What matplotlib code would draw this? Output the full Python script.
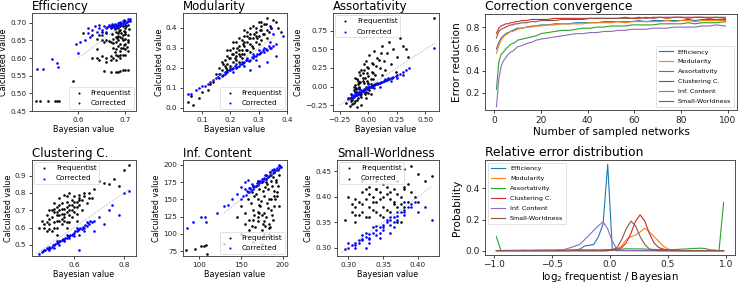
import matplotlib
matplotlib.use('Agg')
import matplotlib.pyplot as plt
import numpy as np

W, H = 741, 284

# ---- scatter data ----
eff_freq_x = [0.69, 0.70, 0.705, 0.695, 0.685, 0.70, 0.69, 0.68, 0.70, 0.685, 0.695, 0.705, 0.68, 0.69,
              0.70, 0.675, 0.685, 0.695, 0.705, 0.68, 0.69, 0.70, 0.685, 0.695, 0.675, 0.70, 0.69, 0.705,
              0.64, 0.65, 0.66, 0.665, 0.655, 0.67, 0.63, 0.645, 0.66, 0.65, 0.61,
              0.63, 0.64, 0.645, 0.65, 0.66, 0.67, 0.675, 0.68, 0.685, 0.69, 0.695, 0.70, 0.67, 0.66, 0.68, 0.69,
              0.655, 0.67, 0.685, 0.69, 0.70, 0.705, 0.695, 0.68,
              0.59, 0.51, 0.52, 0.535, 0.55, 0.56, 0.555, 0.64,
              0.672, 0.678, 0.683, 0.688, 0.692, 0.697, 0.702, 0.708, 0.674, 0.681, 0.687, 0.693, 0.699,
              0.704, 0.676, 0.684, 0.691, 0.698, 0.706, 0.679]
eff_freq_y = [0.70, 0.70, 0.695, 0.69, 0.685, 0.685, 0.68, 0.675, 0.675, 0.67, 0.665, 0.665, 0.66, 0.66,
              0.655, 0.655, 0.65, 0.65, 0.645, 0.645, 0.64, 0.64, 0.635, 0.63, 0.63, 0.625, 0.62, 0.62,
              0.655, 0.65, 0.652, 0.648, 0.645, 0.645, 0.665, 0.665, 0.67, 0.675, 0.67,
              0.60, 0.60, 0.595, 0.605, 0.60, 0.605, 0.60, 0.61, 0.605, 0.61, 0.61, 0.61, 0.595, 0.59, 0.595, 0.60,
              0.563, 0.56, 0.562, 0.564, 0.566, 0.566, 0.565, 0.561,
              0.535, 0.478, 0.478, 0.478, 0.478, 0.478, 0.478, 0.625,
              0.668, 0.682, 0.657, 0.693, 0.671, 0.638, 0.692, 0.683, 0.642, 0.627, 0.676, 0.656, 0.668,
              0.632, 0.688, 0.662, 0.628, 0.678, 0.652, 0.617]
eff_corr_x = [0.665, 0.67, 0.675, 0.68, 0.685, 0.69, 0.695, 0.70, 0.705, 0.71, 0.70, 0.69, 0.68, 0.675,
              0.67, 0.66, 0.655, 0.665, 0.685, 0.695, 0.705, 0.71, 0.70, 0.69, 0.68, 0.65, 0.645,
              0.645, 0.64, 0.63, 0.62, 0.625, 0.615, 0.605, 0.595, 0.60, 0.65, 0.66, 0.635, 0.62,
              0.513, 0.525, 0.545, 0.555, 0.557,
              0.662, 0.668, 0.673, 0.678, 0.683, 0.688, 0.693, 0.698, 0.703, 0.708, 0.672, 0.687, 0.697]
eff_corr_y = [0.69, 0.685, 0.69, 0.69, 0.695, 0.695, 0.70, 0.70, 0.705, 0.71, 0.705, 0.70, 0.695, 0.695,
              0.69, 0.685, 0.69, 0.695, 0.70, 0.705, 0.71, 0.705, 0.695, 0.69, 0.685, 0.68, 0.685,
              0.695, 0.675, 0.68, 0.67, 0.66, 0.65, 0.645, 0.64, 0.615, 0.665, 0.675, 0.69, 0.685,
              0.568, 0.57, 0.597, 0.585, 0.575,
              0.688, 0.692, 0.687, 0.697, 0.69, 0.702, 0.698, 0.703, 0.702, 0.708, 0.698, 0.692, 0.708]

mod_freq_x = [0.15, 0.16, 0.17, 0.18, 0.18, 0.19, 0.19, 0.20, 0.20, 0.20, 0.21, 0.21, 0.21, 0.22, 0.22,
              0.22, 0.23, 0.23, 0.23, 0.24, 0.24, 0.24, 0.25, 0.25, 0.25, 0.26, 0.26, 0.26, 0.27, 0.27,
              0.27, 0.28, 0.28, 0.28, 0.29, 0.29, 0.30, 0.30, 0.31, 0.31, 0.32, 0.32, 0.33, 0.33, 0.34,
              0.35, 0.36, 0.37, 0.38, 0.17, 0.19, 0.23, 0.25, 0.29, 0.31, 0.27,
              0.05, 0.06, 0.07, 0.09, 0.10, 0.12, 0.13, 0.14,
              0.175, 0.185, 0.195, 0.205, 0.215, 0.225, 0.235, 0.245, 0.255, 0.265, 0.275, 0.285, 0.295,
              0.305, 0.315, 0.325, 0.335, 0.345, 0.19, 0.21, 0.23, 0.25, 0.27, 0.29, 0.31, 0.33, 0.22,
              0.26, 0.30, 0.24]
mod_freq_y = [0.17, 0.20, 0.19, 0.24, 0.21, 0.26, 0.22, 0.29, 0.25, 0.21, 0.30, 0.27, 0.23, 0.33, 0.28,
              0.24, 0.31, 0.27, 0.35, 0.34, 0.29, 0.25, 0.36, 0.31, 0.27, 0.38, 0.33, 0.29, 0.37, 0.32,
              0.40, 0.35, 0.30, 0.41, 0.38, 0.33, 0.43, 0.36, 0.39, 0.34, 0.42, 0.37, 0.45, 0.39, 0.41,
              0.44, 0.43, 0.40, 0.38, 0.23, 0.29, 0.29, 0.33, 0.36, 0.41, 0.35,
              0.03, 0.06, 0.015, 0.05, 0.08, 0.09, 0.12, 0.13,
              0.22, 0.20, 0.25, 0.27, 0.25, 0.30, 0.26, 0.32, 0.29, 0.35, 0.31, 0.37, 0.35,
              0.39, 0.37, 0.42, 0.38, 0.40, 0.19, 0.33, 0.23, 0.39, 0.28, 0.40, 0.43, 0.35, 0.26,
              0.36, 0.32, 0.27]
mod_corr_x = [0.05, 0.06, 0.08, 0.09, 0.10, 0.11, 0.12, 0.13, 0.14, 0.15, 0.16, 0.17, 0.18, 0.19, 0.20,
              0.21, 0.22, 0.23, 0.24, 0.25, 0.26, 0.27, 0.28, 0.29, 0.30, 0.31, 0.32, 0.33, 0.34, 0.35,
              0.36, 0.16, 0.18, 0.20, 0.22, 0.24, 0.26, 0.28, 0.30, 0.32, 0.34, 0.27, 0.30, 0.33, 0.36,
              0.385, 0.345, 0.35, 0.21, 0.25, 0.29,
              0.155, 0.165, 0.175, 0.185, 0.195, 0.205, 0.215, 0.225, 0.235, 0.245, 0.255, 0.265, 0.275,
              0.285, 0.295, 0.305, 0.315, 0.325, 0.335, 0.345]
mod_corr_y = [0.07, 0.07, 0.09, 0.10, 0.11, 0.11, 0.12, 0.13, 0.14, 0.15, 0.15, 0.16, 0.17, 0.18, 0.19,
              0.20, 0.20, 0.21, 0.22, 0.23, 0.24, 0.24, 0.25, 0.26, 0.27, 0.28, 0.28, 0.29, 0.30, 0.31,
              0.32, 0.17, 0.18, 0.20, 0.22, 0.23, 0.25, 0.27, 0.29, 0.30, 0.33, 0.19, 0.21, 0.23, 0.26,
              0.36, 0.40, 0.37, 0.18, 0.21, 0.24,
              0.155, 0.17, 0.165, 0.18, 0.19, 0.195, 0.21, 0.205, 0.22, 0.225, 0.24, 0.235, 0.255,
              0.26, 0.27, 0.275, 0.29, 0.295, 0.31, 0.30]

ass_freq_x = [-0.20, -0.18, -0.16, -0.15, -0.14, -0.13, -0.12, -0.12, -0.11, -0.10, -0.10, -0.09, -0.08,
              -0.08, -0.07, -0.06, -0.06, -0.05, -0.04, -0.04, -0.03, -0.02, -0.02, -0.01, 0.00, 0.00,
              0.01, 0.02, 0.03, 0.04, 0.05, 0.06, 0.08, 0.10, 0.12, 0.14, 0.16, 0.18, 0.20, 0.22, 0.25,
              0.28, 0.30, 0.05, 0.02, -0.02, -0.06, -0.10, -0.14, 0.08, 0.12, 0.15, 0.35, 0.58, 0.24,
              0.33, -0.13, -0.09, -0.05, -0.01, 0.03, -0.11, -0.07,
              -0.14, -0.12, -0.10, -0.08, -0.06, -0.04, -0.02, 0.00, 0.02, 0.04, -0.13, -0.11, -0.09,
              -0.07, -0.05, -0.03, -0.01, 0.01, 0.03, -0.15, -0.12, -0.08, -0.04, 0.00, 0.04, 0.07,
              0.09, 0.11]
ass_freq_y = [-0.22, -0.15, -0.26, -0.10, -0.18, -0.05, -0.20, 0.02, -0.12, -0.08, 0.10, -0.16, 0.05,
              -0.02, 0.15, -0.10, 0.22, 0.08, -0.05, 0.30, 0.12, 0.00, 0.35, 0.18, 0.05, 0.25,
              0.42, 0.10, 0.20, 0.30, 0.48, 0.15, 0.38, 0.25, 0.55, 0.35, 0.45, 0.60, 0.30, 0.50, 0.40,
              0.65, 0.55, 0.02, -0.10, -0.15, -0.25, -0.27, -0.24, 0.05, 0.15, 0.22, 0.40, 0.92, 0.20,
              0.50, 0.00, 0.03, 0.12, 0.08, 0.00, -0.03, 0.06,
              -0.15, -0.08, -0.18, 0.00, -0.14, 0.05, -0.07, 0.14, 0.04, 0.10, -0.22, -0.02, 0.08,
              -0.12, 0.18, -0.10, 0.26, -0.05, 0.32, -0.20, 0.12, 0.20, 0.22, -0.09, 0.18, 0.28,
              0.36, 0.45]
ass_corr_x = [-0.18, -0.16, -0.15, -0.14, -0.13, -0.12, -0.11, -0.10, -0.09, -0.08, -0.07, -0.06, -0.05,
              -0.04, -0.03, -0.02, -0.01, 0.00, 0.01, 0.02, 0.03, 0.04, 0.05, 0.06, 0.08, 0.10, 0.12,
              0.14, 0.16, 0.18, 0.20, 0.22, 0.25, 0.28, 0.30, 0.33, 0.36, 0.58, -0.12, -0.08, -0.04,
              0.00, 0.05, 0.10, 0.15, 0.20, 0.25, 0.30, -0.14, -0.10, -0.06,
              -0.165, -0.145, -0.125, -0.105, -0.085, -0.065, -0.045, -0.025, -0.005, 0.015, 0.035,
              0.055, 0.075, 0.095, 0.115, 0.135, 0.155, 0.175, 0.21, 0.24]
ass_corr_y = [-0.17, -0.15, -0.16, -0.13, -0.14, -0.11, -0.12, -0.09, -0.10, -0.07, -0.08, -0.05, -0.06,
              -0.04, -0.04, -0.02, -0.03, -0.01, 0.00, 0.00, 0.01, 0.02, 0.02, 0.03, 0.04, 0.05, 0.06,
              0.08, 0.09, 0.10, 0.12, 0.13, 0.15, 0.17, 0.19, 0.22, 0.25, 0.52, -0.08, -0.04, -0.08,
              0.03, -0.02, 0.00, 0.10, 0.08, 0.12, 0.15, -0.11, -0.12, -0.07,
              -0.15, -0.14, -0.12, -0.10, -0.09, -0.06, -0.05, -0.03, -0.02, 0.00, 0.01,
              0.03, 0.03, 0.05, 0.06, 0.07, 0.09, 0.11, 0.12, 0.14]

clu_freq_x = [0.47, 0.48, 0.49, 0.50, 0.50, 0.51, 0.51, 0.52, 0.52, 0.52, 0.53, 0.53, 0.53, 0.54, 0.54,
              0.54, 0.55, 0.55, 0.55, 0.56, 0.56, 0.56, 0.57, 0.57, 0.57, 0.58, 0.58, 0.58, 0.59, 0.59,
              0.60, 0.60, 0.61, 0.61, 0.62, 0.62, 0.63, 0.64, 0.65, 0.66, 0.67, 0.68, 0.70, 0.72, 0.74,
              0.76, 0.78, 0.80, 0.82, 0.49, 0.53, 0.57, 0.61,
              0.48, 0.50, 0.51, 0.52, 0.53, 0.54, 0.55, 0.56, 0.57, 0.58, 0.59, 0.60, 0.61, 0.62, 0.63,
              0.50, 0.52, 0.54, 0.56, 0.58, 0.60, 0.62, 0.55, 0.57, 0.53, 0.59, 0.64, 0.66, 0.46, 0.49]
clu_freq_y = [0.64, 0.60, 0.67, 0.62, 0.70, 0.58, 0.66, 0.63, 0.69, 0.74, 0.60, 0.67, 0.72, 0.64, 0.70,
              0.77, 0.62, 0.68, 0.74, 0.66, 0.71, 0.79, 0.63, 0.69, 0.75, 0.67, 0.73, 0.80, 0.70, 0.76,
              0.72, 0.78, 0.68, 0.75, 0.73, 0.79, 0.76, 0.78, 0.74, 0.80, 0.77, 0.82, 0.87, 0.86, 0.85,
              0.88, 0.84, 0.93, 0.96, 0.58, 0.56, 0.60, 0.64,
              0.62, 0.65, 0.70, 0.60, 0.69, 0.67, 0.71, 0.64, 0.72, 0.70, 0.66, 0.75, 0.72, 0.77, 0.70,
              0.59, 0.71, 0.73, 0.68, 0.63, 0.69, 0.76, 0.65, 0.78, 0.64, 0.73, 0.80, 0.77, 0.60, 0.63]
clu_corr_x = [0.46, 0.47, 0.48, 0.49, 0.50, 0.51, 0.52, 0.53, 0.54, 0.55, 0.56, 0.57, 0.58, 0.59, 0.60,
              0.61, 0.62, 0.63, 0.64, 0.65, 0.66, 0.67, 0.68, 0.70, 0.50, 0.52, 0.54, 0.56, 0.58, 0.60,
              0.62, 0.64, 0.53, 0.57, 0.61, 0.65, 0.72, 0.75, 0.78, 0.80, 0.82, 0.62, 0.68, 0.74,
              0.475, 0.485, 0.495, 0.505, 0.515, 0.525, 0.535, 0.545, 0.555, 0.565, 0.575, 0.585,
              0.595, 0.605, 0.615, 0.625, 0.635, 0.645, 0.655, 0.665]
clu_corr_y = [0.45, 0.46, 0.47, 0.48, 0.49, 0.49, 0.50, 0.51, 0.52, 0.53, 0.53, 0.54, 0.55, 0.56, 0.57,
              0.58, 0.59, 0.59, 0.60, 0.61, 0.62, 0.63, 0.64, 0.66, 0.47, 0.48, 0.50, 0.52, 0.54, 0.55,
              0.56, 0.58, 0.52, 0.56, 0.60, 0.63, 0.62, 0.73, 0.67, 0.80, 0.81, 0.47, 0.58, 0.70,
              0.465, 0.47, 0.475, 0.485, 0.50, 0.505, 0.51, 0.525, 0.535, 0.54, 0.55, 0.56,
              0.565, 0.58, 0.585, 0.60, 0.605, 0.615, 0.625, 0.64]

inf_freq_x = [150, 155, 158, 160, 162, 163, 165, 166, 167, 168, 170, 171, 172, 173, 175, 176, 177, 178,
              180, 181, 182, 183, 185, 186, 187, 188, 190, 191, 192, 193, 195, 196, 170, 175, 180, 185,
              190, 165, 172, 178, 184, 160, 155, 150, 165, 175, 185, 180, 145,
              85, 95, 103, 106, 108, 110, 130,
              168, 172, 176, 179, 183, 186, 189, 192, 194, 170, 174, 178, 182, 186, 190, 166, 181, 188,
              193, 175, 184, 179, 171, 187, 163]
inf_freq_y = [140, 130, 150, 120, 145, 160, 135, 155, 110, 170, 150, 125, 165, 140, 175, 115, 155, 130,
              180, 145, 165, 100, 185, 135, 170, 120, 190, 150, 175, 160, 185, 140, 95, 105, 125, 110,
              155, 120, 130, 100, 115, 105, 115, 100, 88, 85, 95, 175, 125,
              77, 78, 83, 83, 84, 71, 85,
              158, 142, 162, 168, 150, 176, 162, 178, 170, 132, 148, 118, 137, 150, 140, 128, 172, 183,
              155, 128, 108, 112, 118, 128, 112]
inf_corr_x = [150, 153, 156, 158, 160, 162, 164, 166, 168, 170, 172, 174, 176, 178, 180, 182, 184, 186,
              188, 190, 192, 194, 196, 198, 160, 165, 170, 175, 180, 185, 190, 195, 145, 150, 155, 158,
              140, 135, 130, 122, 108, 107, 102, 93, 86, 155, 163,
              157, 161, 165, 169, 173, 177, 181, 185, 189, 193, 197, 171, 179, 187, 195]
inf_corr_y = [150, 155, 157, 160, 161, 163, 165, 168, 169, 171, 173, 175, 177, 179, 180, 182, 184, 186,
              188, 190, 192, 193, 195, 197, 166, 170, 176, 180, 185, 189, 194, 198, 158, 168, 175, 178,
              150, 142, 140, 130, 117, 125, 125, 117, 109, 165, 172,
              162, 166, 170, 173, 176, 181, 184, 189, 192, 196, 199, 177, 185, 192, 200]

sw_freq_x = [0.295, 0.30, 0.305, 0.31, 0.31, 0.315, 0.32, 0.32, 0.325, 0.33, 0.33, 0.335, 0.34, 0.34,
             0.34, 0.345, 0.35, 0.35, 0.355, 0.36, 0.36, 0.365, 0.37, 0.37, 0.375, 0.38, 0.38, 0.385,
             0.39, 0.39, 0.40, 0.41, 0.42, 0.33, 0.35, 0.37, 0.32, 0.36, 0.38, 0.40, 0.31, 0.34,
             0.305, 0.315, 0.325, 0.335, 0.345, 0.355, 0.365, 0.375, 0.385, 0.395, 0.31, 0.32, 0.33,
             0.34, 0.35, 0.36, 0.37, 0.38, 0.345, 0.355, 0.365, 0.335, 0.325, 0.375]
sw_freq_y = [0.355, 0.40, 0.37, 0.38, 0.35, 0.39, 0.37, 0.41, 0.36, 0.38, 0.42, 0.40, 0.37, 0.39, 0.43,
             0.41, 0.38, 0.40, 0.42, 0.37, 0.41, 0.39, 0.38, 0.43, 0.40, 0.42, 0.455, 0.39, 0.41, 0.46,
             0.445, 0.43, 0.44, 0.36, 0.36, 0.35, 0.43, 0.44, 0.38, 0.39, 0.365, 0.415,
             0.385, 0.365, 0.395, 0.375, 0.395, 0.375, 0.415, 0.385, 0.425, 0.40, 0.395, 0.385, 0.405,
             0.415, 0.425, 0.395, 0.405, 0.415, 0.365, 0.405, 0.385, 0.39, 0.415, 0.35]
sw_corr_x = [0.295, 0.30, 0.305, 0.31, 0.315, 0.32, 0.325, 0.33, 0.335, 0.34, 0.345, 0.35, 0.355, 0.36,
             0.365, 0.37, 0.375, 0.38, 0.385, 0.39, 0.395, 0.31, 0.32, 0.33, 0.34, 0.35, 0.36, 0.37,
             0.38, 0.325, 0.345, 0.365, 0.40, 0.41, 0.42, 0.38, 0.36, 0.33,
             0.30, 0.31, 0.32, 0.33, 0.34, 0.35, 0.36, 0.37, 0.38, 0.39, 0.335, 0.345, 0.355, 0.325,
             0.315, 0.365]
sw_corr_y = [0.297, 0.30, 0.305, 0.31, 0.315, 0.318, 0.322, 0.327, 0.33, 0.335, 0.34, 0.345, 0.35, 0.355,
             0.36, 0.363, 0.37, 0.375, 0.38, 0.385, 0.39, 0.305, 0.315, 0.32, 0.325, 0.335, 0.345, 0.355,
             0.365, 0.30, 0.32, 0.34, 0.37, 0.38, 0.355, 0.39, 0.33, 0.31,
             0.31, 0.30, 0.325, 0.318, 0.342, 0.34, 0.36, 0.37, 0.37, 0.38, 0.34, 0.33, 0.355, 0.33,
             0.31, 0.35]

# ---- convergence curves ----
n_sampled = [1, 2, 3, 4, 5, 6, 7, 8, 9, 10, 12, 14, 16, 18, 20, 23, 26, 29, 32, 35, 38, 41, 44, 47, 50,
             53, 56, 59, 62, 65, 68, 71, 74, 77, 80, 83, 86, 89, 92, 95, 99]
conv_eff = [0.60, 0.66, 0.70, 0.72, 0.74, 0.75, 0.76, 0.77, 0.78, 0.79, 0.79, 0.80, 0.81, 0.81, 0.82,
            0.82, 0.83, 0.83, 0.83, 0.84, 0.84, 0.84, 0.84, 0.85, 0.85, 0.85, 0.85, 0.85, 0.86, 0.85,
            0.86, 0.86, 0.86, 0.86, 0.86, 0.87, 0.86, 0.87, 0.87, 0.87, 0.87]
conv_mod = [0.56, 0.63, 0.68, 0.71, 0.73, 0.74, 0.76, 0.76, 0.77, 0.78, 0.79, 0.80, 0.80, 0.81, 0.81,
            0.82, 0.82, 0.83, 0.83, 0.83, 0.83, 0.84, 0.84, 0.84, 0.84, 0.85, 0.84, 0.85, 0.85, 0.85,
            0.85, 0.85, 0.86, 0.85, 0.86, 0.86, 0.85, 0.86, 0.86, 0.86, 0.86]
conv_ass = [0.23, 0.48, 0.55, 0.57, 0.60, 0.62, 0.64, 0.65, 0.66, 0.68, 0.69, 0.70, 0.71, 0.72, 0.74,
            0.75, 0.76, 0.77, 0.77, 0.78, 0.79, 0.79, 0.80, 0.80, 0.81, 0.81, 0.81, 0.82, 0.82, 0.82,
            0.82, 0.83, 0.83, 0.83, 0.83, 0.84, 0.83, 0.84, 0.84, 0.84, 0.85]
conv_clu = [0.74, 0.79, 0.81, 0.82, 0.83, 0.83, 0.84, 0.84, 0.85, 0.85, 0.86, 0.86, 0.87, 0.87, 0.87,
            0.87, 0.88, 0.88, 0.88, 0.88, 0.88, 0.88, 0.88, 0.88, 0.88, 0.88, 0.89, 0.88, 0.88, 0.89,
            0.88, 0.89, 0.88, 0.89, 0.89, 0.88, 0.89, 0.89, 0.88, 0.89, 0.88]
conv_inf = [0.07, 0.32, 0.44, 0.49, 0.52, 0.55, 0.57, 0.58, 0.60, 0.62, 0.63, 0.65, 0.66, 0.68, 0.69,
            0.70, 0.71, 0.72, 0.73, 0.74, 0.74, 0.75, 0.75, 0.76, 0.76, 0.77, 0.77, 0.78, 0.78, 0.78,
            0.79, 0.79, 0.79, 0.80, 0.80, 0.80, 0.80, 0.81, 0.81, 0.82, 0.81]
conv_sw = [0.70, 0.76, 0.78, 0.79, 0.80, 0.81, 0.82, 0.82, 0.83, 0.83, 0.84, 0.84, 0.85, 0.85, 0.86,
           0.86, 0.86, 0.87, 0.87, 0.87, 0.87, 0.88, 0.88, 0.88, 0.88, 0.88, 0.88, 0.88, 0.89, 0.88,
           0.89, 0.89, 0.89, 0.89, 0.89, 0.89, 0.89, 0.89, 0.89, 0.89, 0.89]

# ---- relative error histograms (bin centres -0.98 ... 0.98) ----
bin_centres = np.round(np.arange(-0.98, 0.99, 0.04), 2)
hist_eff = [0, 0, 0, 0, 0, 0, 0, 0, 0, 0, 0, 0, 0, 0, 0, 0, 0.002, 0.005, 0.01, 0.03, 0.035, 0.04, 0.09,
            0.17, 0.555, 0.01, 0, 0, 0, 0, 0, 0, 0, 0, 0, 0, 0, 0, 0, 0, 0, 0, 0, 0, 0, 0, 0, 0, 0, 0]
hist_mod = [0, 0, 0, 0, 0, 0, 0, 0, 0, 0, 0, 0, 0, 0, 0, 0, 0, 0, 0, 0, 0, 0, 0, 0, 0.002, 0.004, 0.01,
            0.03, 0.07, 0.09, 0.10, 0.12, 0.145, 0.12, 0.09, 0.06, 0.03, 0.01, 0.005, 0.002, 0, 0, 0, 0,
            0, 0, 0, 0, 0, 0]
hist_ass = [0.09, 0.0, 0.002, 0.002, 0.003, 0.002, 0.003, 0.002, 0.003, 0.004, 0.003, 0.004, 0.003,
            0.004, 0.005, 0.004, 0.005, 0.004, 0.005, 0.006, 0.005, 0.006, 0.005, 0.006, 0.007, 0.008,
            0.009, 0.01, 0.012, 0.012, 0.011, 0.012, 0.01, 0.009, 0.008, 0.007, 0.008, 0.006, 0.007,
            0.008, 0.01, 0.011, 0.013, 0.015, 0.016, 0.014, 0.006, 0.004, 0.0, 0.31]
hist_clu = [0, 0, 0, 0, 0, 0, 0, 0, 0, 0, 0, 0, 0, 0, 0, 0, 0, 0, 0, 0, 0, 0, 0, 0, 0, 0.002, 0.005,
            0.02, 0.05, 0.11, 0.19, 0.23, 0.19, 0.11, 0.05, 0.02, 0.01, 0.003, 0, 0, 0, 0, 0, 0, 0, 0, 0,
            0, 0, 0]
hist_inf = [0.001, 0.001, 0.001, 0.001, 0.001, 0.001, 0.002, 0.002, 0.002, 0.002, 0.003, 0.003, 0.003,
            0.004, 0.005, 0.01, 0.02, 0.03, 0.04, 0.07, 0.10, 0.13, 0.16, 0.185, 0.14, 0.06, 0.01, 0.002,
            0.001, 0.001, 0, 0, 0, 0, 0, 0, 0, 0, 0, 0, 0, 0, 0, 0, 0, 0, 0, 0, 0, 0]
hist_sw = [0, 0, 0, 0, 0, 0, 0, 0, 0, 0, 0, 0, 0, 0, 0, 0, 0, 0, 0, 0, 0, 0, 0, 0, 0, 0.005, 0.02, 0.07,
           0.14, 0.19, 0.16, 0.09, 0.04, 0.01, 0.003, 0, 0, 0, 0, 0, 0, 0, 0, 0, 0, 0, 0, 0, 0, 0]

metric_names = ['Efficiency', 'Modularity', 'Assortativity', 'Clustering C.', 'Inf. Content',
                'Small-Worldness']

fig = plt.figure(figsize=(W / 100, H / 100), dpi=100)


def px_axes(l, t, r, b):
    return fig.add_axes([l / W, 1 - b / H, (r - l) / W, (b - t) / H])


def style(ax, tick_fs):
    for sp in ax.spines.values():
        sp.set_linewidth(0.6)
        sp.set_color('#333333')
    ax.tick_params(labelsize=tick_fs, length=2.5, width=0.6, pad=1.5, colors='#222222')


scatter_panels = [
    # name, fx, fy, cx, cy, box (l,t,r,b), xlim, ylim, xticks, yticks, legend loc, diag
    ('Efficiency', eff_freq_x, eff_freq_y, eff_corr_x, eff_corr_y, (32, 13, 136, 111),
     (0.502, 0.723), (0.45, 0.728), [0.6, 0.7], [0.45, 0.50, 0.55, 0.60, 0.65, 0.70],
     'lower right', (0.60, 0.71)),
    ('Modularity', mod_freq_x, mod_freq_y, mod_corr_x, mod_corr_y, (183, 13, 287, 111),
     (0.033, 0.40), (-0.015, 0.475), [0.1, 0.2, 0.3, 0.4], [0.0, 0.1, 0.2, 0.3, 0.4],
     'lower right', (0.08, 0.36)),
    ('Assortativity', ass_freq_x, ass_freq_y, ass_corr_x, ass_corr_y, (333, 13, 439, 111),
     (-0.31, 0.62), (-0.33, 0.99), [-0.25, 0.0, 0.25, 0.5], [-0.25, 0.0, 0.25, 0.5, 0.75],
     'upper left', (-0.25, 0.58)),
    ('Clustering C.', clu_freq_x, clu_freq_y, clu_corr_x, clu_corr_y, (32, 160, 136, 256),
     (0.432, 0.848), (0.436, 0.99), [0.6, 0.8], [0.5, 0.6, 0.7, 0.8, 0.9],
     'upper left', (0.45, 0.82)),
    ('Inf. Content', inf_freq_x, inf_freq_y, inf_corr_x, inf_corr_y, (183, 160, 287, 256),
     (81, 205), (68, 207), [100, 150, 200], [75, 100, 125, 150, 175, 200],
     'lower right', (130, 198)),
    ('Small-Worldness', sw_freq_x, sw_freq_y, sw_corr_x, sw_corr_y, (337, 160, 439, 256),
     (0.284, 0.43), (0.284, 0.472), [0.30, 0.35, 0.40], [0.30, 0.35, 0.40, 0.45],
     'upper left', (0.29, 0.42)),
]

for (name, fx, fy, cx, cy, box, xl, yl, xt, yt, loc, diag) in scatter_panels:
    ax = px_axes(*box)
    ax.scatter(fx, fy, s=3.5, c='k', lw=0, label='Frequentist', zorder=2)
    ax.scatter(cx, cy, s=3.5, c='b', lw=0, label='Corrected', zorder=3)
    ax.plot(diag, diag, color='gray', lw=0.5, ls=':', zorder=4)
    ax.set_xlim(*xl)
    ax.set_ylim(*yl)
    ax.set_xticks(xt)
    ax.set_yticks(yt)
    style(ax, 5.2)
    ax.set_xlabel('Bayesian value', fontsize=5.8, labelpad=1.5)
    ax.set_ylabel('Calculated value', fontsize=5.8, labelpad=1.5)
    ax.set_title(name, fontsize=8.5, loc='left', pad=2)
    leg = ax.legend(loc=loc, fontsize=5.2, markerscale=0.8, handletextpad=0.6,
                    borderpad=0.4, labelspacing=0.6, handlelength=2.0, borderaxespad=0.3)
    leg.get_frame().set_linewidth(0.5)

colors = ['#1f77b4', '#ff7f0e', '#2ca02c', '#d62728', '#9467bd', '#8c564b']

# convergence
ax = px_axes(485, 14, 737, 110)
for series, c, name in zip([conv_eff, conv_mod, conv_ass, conv_clu, conv_inf, conv_sw], colors,
                           metric_names):
    ax.plot(n_sampled, series, color=c, lw=0.8, label=name)
ax.set_ylim(0.04, 0.92)
ax.set_xticks([0, 20, 40, 60, 80, 100])
ax.set_yticks([0.2, 0.4, 0.6, 0.8])
style(ax, 6.5)
ax.set_xlabel('Number of sampled networks', fontsize=7.6, labelpad=1.5)
ax.set_ylabel('Error reduction', fontsize=7.6, labelpad=2)
ax.set_title('Correction convergence', fontsize=8.9, loc='left', pad=3)
leg = ax.legend(loc='lower right', fontsize=4.6, handlelength=2.2, labelspacing=0.7,
                borderpad=0.5, borderaxespad=0.4)
leg.get_frame().set_linewidth(0.5)

# error distribution
ax = px_axes(485, 160, 735, 255)
for series, c, name in zip([hist_eff, hist_mod, hist_ass, hist_clu, hist_inf, hist_sw], colors,
                           metric_names):
    ax.plot(bin_centres, series, color=c, lw=0.8, label=name)
ax.set_xticks([-1.0, -0.5, 0.0, 0.5, 1.0])
ax.set_yticks([0.0, 0.2, 0.4])
style(ax, 6.5)
ax.tick_params(axis='x', pad=1)
ax.set_xlabel('log$_2$ frequentist / Bayesian', fontsize=7.4, labelpad=0.5)
ax.set_ylabel('Probability', fontsize=7.6, labelpad=2)
ax.set_title('Relative error distribution', fontsize=8.9, loc='left', pad=3)
leg = ax.legend(loc='upper left', fontsize=4.6, handlelength=2.2, labelspacing=0.7,
                borderpad=0.5, borderaxespad=0.4)
leg.get_frame().set_linewidth(0.5)

fig.savefig('out.png', dpi=100)
